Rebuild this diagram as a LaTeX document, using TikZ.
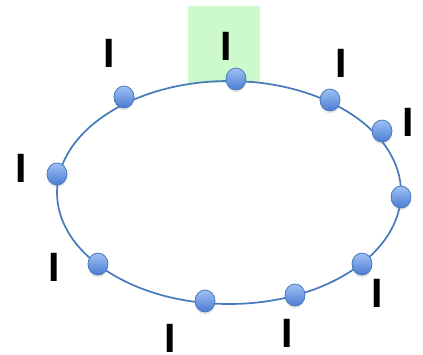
\documentclass[tikz,border=0pt]{standalone}
\usepackage{fontspec}
\setmainfont{Liberation Sans}
\usepackage{xcolor}
\usetikzlibrary{shapes.geometric,shadows}

\definecolor{ringblue}{RGB}{70,122,186}
\definecolor{balltop}{RGB}{160,192,244}
\definecolor{ballbot}{RGB}{74,124,210}
\definecolor{slotgreen}{RGB}{204,250,204}

\begin{document}
\begin{tikzpicture}[
  x=1pt, y=-1pt,
  ring/.style={draw=ringblue,line width=1.7pt},
  slotbox/.style={fill=slotgreen,draw=none},
  ball/.style={ellipse,draw=ringblue,line width=0.8pt,minimum width=20pt,
               minimum height=22pt,inner sep=0pt,top color=balltop,bottom color=ballbot,
               drop shadow={shadow xshift=0pt,shadow yshift=-2.5pt,opacity=0.18}},
  tag/.style={inner sep=0pt,font=\fontsize{41}{41}\selectfont\bfseries}]
  \useasboundingbox (0,0) rectangle (423,354);
  % --- highlighted slot behind the ring ---
  \node[slotbox,minimum width=72pt,minimum height=77pt,inner sep=0pt] (slot) at (224,44) {};
  % --- the ring ---
  \draw[ring] (229,192.5) ellipse [x radius=172pt, y radius=111.5pt];
  % --- positions on the ring ---
  \foreach \x/\y [count=\i] in {236/79,124/97,330/100,382/131,57/174,
                                401/197,98/264,362/264,205/301,295/295}{%
    \node[ball] (b\i) at (\x,\y) {};}
  % --- labels ---
  \foreach \x/\y [count=\i] in {226/46,109/53,341/63,408/122,21/168,
                                54/267,170/338,287/333,377/293}{%
    \node[tag] (t\i) at (\x,\y) {I};}
\end{tikzpicture}
\end{document}
